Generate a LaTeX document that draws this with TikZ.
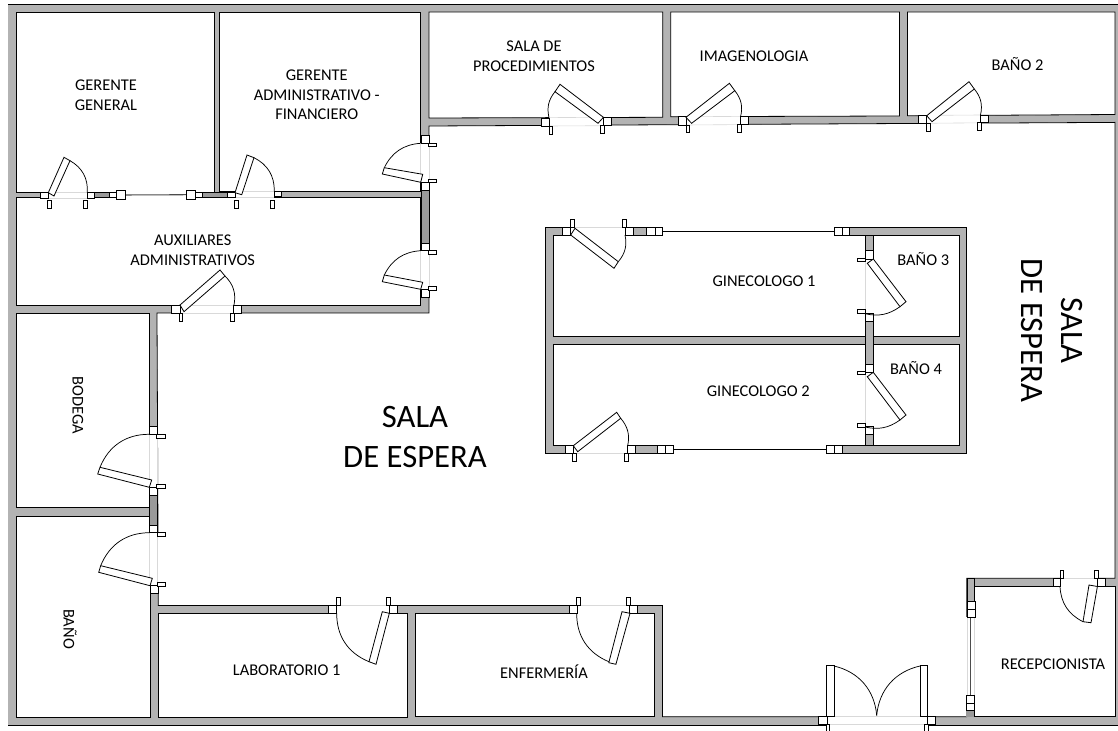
\documentclass[tikz,border=0pt]{standalone}
\usepackage{fontspec}
\setmainfont{Carlito}
\definecolor{wallgray}{HTML}{B3B3B3}
\definecolor{walldark}{HTML}{9A9A9A}
\definecolor{ghostgray}{HTML}{D9D9D9}
\tikzset{
  wallfill/.style={fill=wallgray,draw=none},
  darkfill/.style={fill=walldark,draw=black,line width=0.4pt},
  midfill/.style={fill=wallgray,draw=black,line width=0.4pt},
  room/.style={fill=white,draw=black,line width=0.6pt},
  jamb/.style={fill=white,draw=black,line width=0.6pt},
  tab/.style={fill=white,draw=black,line width=0.45pt},
  leaf/.style={fill=white,draw=black,line width=0.6pt,line join=miter},
  swing/.style={draw=black,line width=0.55pt},
  gap/.style={fill=white,draw=none},
  ghost/.style={draw=ghostgray,line width=0.45pt},
  glass/.style={draw=black!70,line width=0.8pt},
  lbl/.style={font=\fontsize{12.3}{14.8}\selectfont,align=center,text=black,inner sep=0pt},
  biglbl/.style={font=\fontsize{24.5}{30}\selectfont,align=center,text=black,inner sep=0pt},
}
\newcommand{\jb}[4]{\draw[jamb] (#1,#2) rectangle (#3,#4);}
\newcommand{\tb}[4]{\draw[tab] (#1,#2) rectangle (#3,#4);}
\newcommand{\gp}[4]{\fill[gap] (#1,#2) rectangle (#3,#4);}
\newcommand{\dk}[4]{\draw[darkfill] (#1,#2) rectangle (#3,#4);}
\newcommand{\md}[4]{\draw[midfill] (#1,#2) rectangle (#3,#4);}
\newcommand{\lf}[4]{\draw[leaf] #1 -- #2 -- #3 -- #4 -- cycle;}
\begin{document}
\begin{tikzpicture}[x=0.75pt,y=-0.75pt]
\useasboundingbox (0,0) rectangle (1118,731);
\fill[white] (0,0) rectangle (1118,731);
% --- outer shell
\fill[wallfill] (8,4.5) rectangle (1118,725.7);
\draw[black,line width=0.8pt] (8,4.5) -- (1118,4.5);
\draw[black,line width=0.8pt] (8,725.7) -- (1118,725.7);
% --- rooms
\draw[room] (16,12) rectangle (214.5,192.7);
\draw[room] (219.5,12) rectangle (420.7,191.3);
\draw[room] (16,197.5) rectangle (420.7,305);
\draw[room] (16,313) rectangle (149,507.7);
\draw[room] (16,516) rectangle (150.5,717.7);
\draw[room] (158.3,613.5) rectangle (407.5,717.5);
\draw[room] (415,613.5) rectangle (654.5,716.7);
\draw[room] (429,12) -- (662.7,12) -- (662.7,117.3) -- (429,118) -- cycle;
\draw[room] (670.7,12) -- (899.5,12) -- (899.5,116) -- (670.7,116.7) -- cycle;
\draw[room] (907.5,12) -- (1115,12) -- (1115,114.5) -- (907.5,115.8) -- cycle;
\draw[room] (974.6,586) rectangle (1115,716.7);
% --- waiting hall
\draw[room] (429,126) -- (1115,122.4) -- (1115,578.3) -- (966.8,578.3) -- (966.8,716.7)
  -- (662.5,716.7) -- (662.5,605.5) -- (158.3,605.5) -- (157,313) -- (429,313) -- cycle;
% --- island
\draw[fill=wallgray,draw=black,line width=0.6pt] (545.7,227.3) rectangle (966.7,453.3);
\draw[room] (553.3,235) rectangle (865,336);
\draw[room] (553.3,344.3) rectangle (865,445.7);
\draw[room] (873.3,235) rectangle (959,336.7);
\draw[room] (873.3,344.3) rectangle (959,445.7);
% --- darker stretches of wall
\dk{421}{190}{429}{243.3}
\dk{149}{495.7}{157}{525.3}
\dk{94.3}{192.7}{109.3}{197.7}
\dk{202.3}{192.7}{227.3}{197.7}
\md{633.3}{227.3}{646.7}{235}
\md{635.3}{445.7}{657.7}{453.3}
\md{865}{321}{873.3}{364}
\md{865}{434.3}{873.3}{445.7}
\md{865}{235}{873.3}{250.7}
% --- door: Gerente General
\gp{48.3}{191.5}{87}{199}
\draw[ghost] (48.3,192.7) -- (87,192.7) (48.3,198) -- (87,198);
\jb{40}{192.7}{48.3}{198}\jb{87}{192.7}{94.3}{198}
\tb{47.3}{200.5}{51.3}{208.7}\tb{83.3}{200.5}{87.3}{208.7}
\draw[swing] (87.3,192.7) to[bend right=32] (70,160.7);
\lf{(48.3,192.7)}{(54,196)}{(70,160.7)}{(64,157.3)}
% --- window between managers
\gp{125}{191}{186.7}{199}
\draw[glass] (125,195) -- (186.7,194.7);
\jb{109.3}{192.7}{116.7}{197.7}\jb{116.7}{190.7}{125}{199.3}
\jb{186.7}{190.5}{195}{199}\jb{195}{192.7}{202.3}{197.7}
% --- door: Gerente Administrativo (bottom)
\gp{235}{190.5}{274.3}{199}
\draw[ghost] (235,191.5) -- (274.3,191.5) (235,197) -- (274.3,197);
\jb{227.3}{192}{235}{197.5}\jb{274.3}{191.3}{281.7}{196.7}
\tb{234.3}{200}{238.3}{208.3}\tb{270.7}{200}{274.7}{208.3}
\draw[swing] (274.3,191.3) to[bend right=32] (254,157.7);
\lf{(235,192.7)}{(241.7,194.7)}{(254,157.7)}{(247,155)}
% --- door: Gerente Administrativo (right)
\gp{419.5}{143.3}{430}{182.3}
\draw[ghost] (420.7,143.3) -- (420.7,182.3) (429,143.3) -- (429,182.3);
\jb{421}{135.7}{429}{143.3}\jb{421}{182.3}{429}{190}
\tb{428.5}{143.3}{436.7}{146.7}\tb{428.5}{179}{436.7}{182.7}
\draw[swing] (420.7,143.3) to[bend right=30] (384.3,167.7);
\lf{(422.7,174.3)}{(420.7,182.3)}{(382.3,174)}{(384.3,167.7)}
% --- door: Auxiliares (right)
\gp{419.5}{250.7}{430}{289.3}
\draw[ghost] (420.7,250.7) -- (420.7,289.3) (429,250.7) -- (429,289.3);
\jb{421}{243.3}{429}{250.7}\jb{421}{289.3}{429}{297.3}
\tb{428.5}{250.7}{436.7}{254}\tb{428.5}{286}{436.7}{290}
\draw[swing] (420.7,250.7) to[bend right=30] (384.3,275);
\lf{(422.7,282.3)}{(420.7,289.3)}{(382.3,281.7)}{(384.3,275)}
% --- door: Auxiliares (bottom)
\gp{180}{303.8}{233.3}{314.3}
\draw[ghost] (180,305) -- (233.3,305) (180,313.3) -- (233.3,313.3);
\jb{171.7}{305}{180}{313.3}\jb{233.3}{305}{241.7}{313.3}
\tb{179}{313.3}{182.7}{321.7}\tb{230}{313.3}{234.3}{321.7}
\draw[swing] (234,305) to[bend right=28] (225,276);
\lf{(180,305)}{(184,311.7)}{(225,276)}{(220,270)}
% --- door: Bodega
\gp{148}{434.3}{158}{487.3}
\draw[ghost] (149,434.3) -- (149,487.3) (157,434.3) -- (157,487.3);
\jb{149}{426.7}{157}{434.3}\jb{149}{487.3}{157}{495.7}
\tb{156.5}{434.3}{165}{438}\tb{156.5}{484.3}{165}{488}
\draw[swing] (149,434.3) to[bend right=34] (100,467.3);
\lf{(151.7,480)}{(149.3,487.3)}{(97.7,474)}{(100,467.3)}
% --- door: Baño
\gp{148.8}{532.7}{158.5}{585.7}
\draw[ghost] (149.7,532.7) -- (149.7,585.7) (157.7,532.7) -- (157.7,585.7);
\jb{149.7}{525.3}{157.7}{532.7}\jb{150}{585.7}{158}{593.3}
\tb{157.3}{532.7}{165.7}{536.3}\tb{157.6}{582.3}{165.7}{586}
\draw[swing] (149.7,532.7) to[bend right=34] (100.7,565.7);
\lf{(152.3,578.3)}{(150,585.7)}{(98.7,572.3)}{(100.7,565.7)}
% --- door: Laboratorio 1
\gp{336.7}{604}{389.3}{614.7}
\draw[ghost] (336.7,605.3) -- (389.3,605.3);
\jb{328.3}{605.3}{336.7}{613.3}\jb{389.3}{605.3}{397.3}{613.3}
\tb{336.3}{597.3}{340.3}{605.3}\tb{386.3}{597.3}{390.3}{605.3}
\draw[swing] (336.7,613.3) to[bend right=34] (369,661.7);
\lf{(382.3,611.7)}{(389.3,613.3)}{(376,664.3)}{(369,661.7)}
% --- door: Enfermería
\gp{577}{604}{629.4}{614.7}
\draw[ghost] (577,605.5) -- (629.4,605.5);
\jb{569}{605.5}{577}{613.3}\jb{629.4}{605.5}{637.6}{613.3}
\tb{576.7}{597}{580.3}{605.5}\tb{626.5}{597}{630.5}{605.5}
\draw[swing] (576.7,613.3) to[bend right=34] (608.8,661.7);
\lf{(622,611.7)}{(630,613.3)}{(615.9,664.3)}{(608.8,662.7)}
% --- door: Sala de procedimientos
\gp{549}{116.5}{603.4}{127}
\draw[ghost] (549,117.6) -- (603.4,117.3) (549,126) -- (603.4,125.7);
\jb{541}{118}{549}{126}\jb{603.4}{117}{611.5}{125}
\tb{549}{126}{552.7}{134}\tb{600}{125}{604}{133.3}
\draw[swing] (549,117.6) to[bend left=26] (555,91.7);
\lf{(603.4,117.3)}{(598,123.3)}{(555,91.7)}{(560,84.3)}
% --- door: Imagenología
\gp{686}{115.5}{740.6}{126}
\draw[ghost] (686,116.7) -- (740.6,116.4) (686,125) -- (740.6,124.6);
\jb{678}{116.7}{686}{125}\jb{740.6}{116.3}{748.6}{124.3}
\tb{685.8}{125}{689.4}{132.7}\tb{737.5}{124.5}{741.5}{132.7}
\draw[swing] (740.6,116.6) to[bend right=26] (734.8,90.7);
\lf{(686,117.3)}{(691.6,123.3)}{(734.8,90.7)}{(729.4,83.3)}
% --- door: Baño 2
\gp{926.7}{114.2}{980.5}{124.3}
\draw[ghost] (926.7,115.4) -- (980.5,115) (926.7,123.3) -- (980.5,122.8);
\jb{918.7}{115.7}{926.7}{123.3}\jb{980.5}{115}{988.6}{122.7}
\tb{926}{123.3}{929.8}{131.7}\tb{977.4}{122.7}{981.5}{130.7}
\draw[swing] (980.5,115) to[bend right=26] (974.3,89);
\lf{(926.7,115.7)}{(932,121.7)}{(974.3,89)}{(969,81.7)}
% --- door and window: Ginecologo 1
\gp{570.7}{226}{625.7}{236.2}
\draw[ghost] (570.7,227.3) -- (625.7,227.3);
\jb{562.3}{227.3}{570.7}{235}\jb{625.7}{227.3}{633.3}{235}
\tb{570.3}{219.3}{574}{227.3}\tb{622.3}{219.3}{626}{227.3}
\draw[swing] (625,235) to[bend left=26] (618.3,261.7);
\lf{(570.7,235)}{(575,228.3)}{(618.3,261.7)}{(614,268.3)}
\gp{662.7}{226}{834.3}{236.2}
\draw[black,line width=0.8pt] (662.7,231.3) -- (834.3,231.3);
\jb{646.7}{227.3}{655}{235}\jb{655}{227.3}{662.7}{235}
\jb{834.3}{227.3}{842}{235}\jb{842}{227.3}{849.7}{235}
% --- door and window: Ginecologo 2
\gp{573.3}{444.5}{627.7}{454.5}
\draw[ghost] (573.3,453.3) -- (627.7,453.3);
\jb{565}{445.7}{573.3}{453.3}\jb{627.7}{445.7}{635.3}{453.3}
\tb{572.7}{453.3}{576.7}{461.7}\tb{624.3}{453.3}{628}{461.7}
\draw[swing] (627.7,445.7) to[bend right=26] (620.7,418.3);
\lf{(573.3,445.7)}{(577.7,451.7)}{(620.7,418.3)}{(616.7,412.3)}
\gp{673.7}{444.5}{826}{454.5}
\draw[black,line width=0.8pt] (673.7,449.5) -- (826,449.5);
\jb{657.7}{445.7}{665.7}{453.3}\jb{665.7}{445.7}{673.7}{453.3}
\jb{826}{445.7}{834}{453.3}\jb{834}{445.7}{842.3}{453.3}
% --- door: Baño 3
\gp{864}{259}{874.3}{313.3}
\draw[ghost] (865,259) -- (865,313.3);
\jb{865}{250.7}{873.3}{259}\jb{865}{313.3}{873.3}{321}
\tb{857.3}{258.3}{865.3}{261.7}\tb{857.3}{309.7}{865.3}{313.7}
\draw[swing] (865,313.7) to[bend right=24] (900,306.7);
\lf{(873.3,259)}{(867.3,263.3)}{(900,306.7)}{(906,301.7)}
% --- door: Baño 4
\gp{864}{372}{874.3}{426.7}
\draw[ghost] (865,372) -- (865,426.7);
\jb{865}{364}{873.3}{372}\jb{865}{426.7}{873.3}{434.3}
\tb{857.3}{371.3}{865.3}{374.7}\tb{857.3}{423}{865.3}{427}
\draw[swing] (865,427) to[bend right=24] (900,420);
\lf{(873.3,372.3)}{(867.3,376.7)}{(900,420)}{(906,415)}
% --- main entrance
\gp{827}{715.6}{927.6}{725}
\draw[ghost] (827,716.7) -- (927.6,716.7) (827,724) -- (927.6,724);
\fill[white] (826,725) rectangle (928.3,731);
\jb{818.7}{716.7}{827}{724}\jb{927.6}{716.7}{935.8}{724}
\tb{826}{724}{829.7}{733}\tb{924.4}{724}{928.3}{733}
\draw[leaf] (826,665) rectangle (834,716.7);
\draw[leaf] (920,665) rectangle (927.6,716.7);
\draw[swing] (834,666) to[bend left=36] (876.7,715.5);
\draw[swing] (920,666) to[bend right=36] (876.7,715.5);
% --- door: Recepcionista
\gp{1060.7}{577.2}{1097}{587}
\draw[ghost] (1060.7,578.3) -- (1097,578.3);
\jb{1053}{578.3}{1060.7}{586}\jb{1097}{578.3}{1105.6}{586}
\tb{1060}{570}{1063.6}{578.3}\tb{1094.5}{570}{1098.4}{578.3}
\draw[swing] (1060,586.7) to[bend right=30] (1083,621.7);
\lf{(1089,585)}{(1097.4,586.5)}{(1091,622.7)}{(1083,621.7)}
% --- window: Recepcionista
\md{966.8}{578.3}{974.6}{601.7}
\gp{966}{617.3}{975.5}{695}
\draw[ghost] (966.8,617.3) -- (966.8,695) (974.6,617.3) -- (974.6,695);
\draw[glass] (970.7,617.3) -- (970.7,695);
\jb{967}{601.7}{975}{609.3}\jb{967}{609.3}{975}{617.3}
\jb{966.3}{695}{974.3}{703.3}\jb{966.3}{703.3}{974.3}{710.7}
\fill[walldark] (966.3,710.7) rectangle (974.3,716.7);
% --- labels
\node[lbl] (gg) at (106,95) {GERENTE\\GENERAL};
\node[lbl] (ga) at (316.7,95) {GERENTE\\ADMINISTRATIVO -\\FINANCIERO};
\node[lbl] (aux) at (192.7,250) {AUXILIARES\\ADMINISTRATIVOS};
\node[lbl] (proc) at (534,56.5) {SALA DE\\PROCEDIMIENTOS};
\node[lbl] (imag) at (754,56) {IMAGENOLOGIA};
\node[lbl] (b2) at (1017.5,64) {BAÑO 2};
\node[lbl] (gin1) at (764,281.7) {GINECOLOGO 1};
\node[lbl] (gin2) at (758.3,391) {GINECOLOGO 2};
\node[lbl] (b3) at (923.3,259) {BAÑO 3};
\node[lbl] (b4) at (916,368.3) {BAÑO 4};
\node[lbl,rotate=-90] (bod) at (78,405.5) {BODEGA};
\node[lbl,rotate=-90] (ban) at (70,629) {BAÑO};
\node[lbl] (lab) at (286.7,670.7) {LABORATORIO 1};
\node[lbl] (enf) at (544,672) {ENFERMERÍA};
\node[lbl] (rec) at (1053,664) {RECEPCIONISTA};
\node[biglbl] (se1) at (415,437) {SALA\\DE ESPERA};
\node[biglbl,rotate=-90] (se2) at (1052,330.5) {SALA\\DE ESPERA};
\end{tikzpicture}
\end{document}
